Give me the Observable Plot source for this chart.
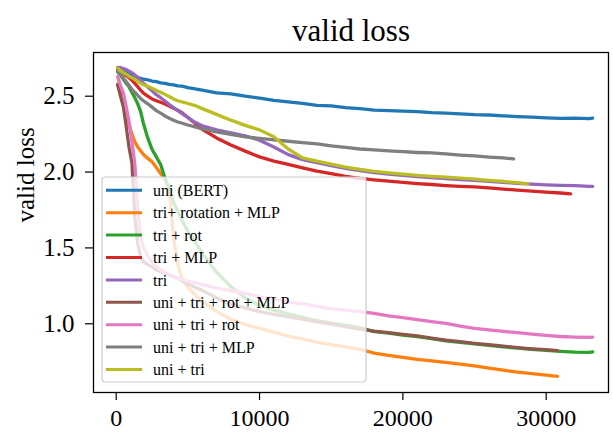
<!DOCTYPE html>
<html>
<head>
<meta charset="utf-8">
<script src="https://cdn.jsdelivr.net/npm/d3@7"></script>
<script src="https://cdn.jsdelivr.net/npm/@observablehq/plot@0.6"></script>
<style>
  html, body { margin: 0; padding: 0; background: white; }
  #chart { width: 613px; height: 432px; }
</style>
</head>
<body>
<div id="chart"></div>
<script>
const steps = [100, 300, 500, 700, 900, 1100, 1300, 1500, 1700, 1900, 2200, 2500, 2800, 3100, 3400, 3700, 4000, 4300, 4600, 5000, 5500, 6000,
  7000, 8000, 9000, 10000, 11000, 12000, 13000, 14000, 15000, 16000, 17000, 18000, 19000, 20000, 21000, 22000, 23000, 24000, 25000,
  26000, 27000, 28000, 29000, 30000, 31000, 32000, 33000];

const labels = ["uni (BERT)", "tri+ rotation + MLP", "tri + rot", "tri + MLP", "tri",
  "uni + tri + rot + MLP", "uni + tri + rot", "uni + tri + MLP", "uni + tri"];
const colors = ["#1f77b4", "#ff7f0e", "#2ca02c", "#d62728", "#9467bd", "#8c564b", "#e377c2", "#7f7f7f", "#bcbd22"];
const lastSteps = [33240, 30790, 33240, 31700, 33240, 30790, 33240, 27730, 28710];

const uniBert = [2.675, 2.668, 2.660, 2.652, 2.645, 2.636, 2.630, 2.622, 2.618, 2.612,
  2.607, 2.600, 2.596, 2.588, 2.585, 2.578, 2.575, 2.568, 2.566, 2.556, 2.548, 2.540,
  2.522, 2.515, 2.500, 2.488, 2.472, 2.462, 2.452, 2.440, 2.436, 2.424,
  2.418, 2.408, 2.405, 2.402, 2.398, 2.392, 2.389, 2.384, 2.378, 2.376,
  2.370, 2.366, 2.362, 2.357, 2.354, 2.356, 2.352, 2.355];
const triRotMlp = [2.58, 2.52, 2.45, 2.38, 2.31, 2.25, 2.20, 2.165, 2.14, 2.115,
  2.09, 2.068, 2.03, 1.99, 1.95, 1.88, 1.57, 1.39, 1.30, 1.24, 1.19, 1.15,
  1.08, 1.03, 0.995, 0.97, 0.945, 0.918, 0.90, 0.878, 0.862, 0.848,
  0.832, 0.806, 0.792, 0.778, 0.766, 0.756, 0.746, 0.734, 0.722, 0.708,
  0.694, 0.682, 0.672, 0.662, 0.653];
const triRot = [2.66, 2.64, 2.61, 2.585, 2.56, 2.525, 2.49, 2.45, 2.40, 2.32,
  2.225, 2.15, 2.10, 2.05, 1.96, 1.89, 1.80, 1.74, 1.68, 1.61, 1.54, 1.465,
  1.34, 1.245, 1.17, 1.12, 1.09, 1.065, 1.042, 1.02, 1.005, 0.99,
  0.975, 0.948, 0.938, 0.926, 0.916, 0.902, 0.888, 0.878, 0.867, 0.858,
  0.848, 0.840, 0.832, 0.825, 0.818, 0.813, 0.812, 0.815];
const triMlp = [2.67, 2.66, 2.648, 2.635, 2.622, 2.605, 2.585, 2.562, 2.54, 2.52,
  2.50, 2.482, 2.47, 2.46, 2.448, 2.435, 2.42, 2.408, 2.39, 2.36, 2.322, 2.282,
  2.225, 2.178, 2.138, 2.10, 2.072, 2.05, 2.028, 2.006, 1.99, 1.972,
  1.958, 1.948, 1.94, 1.932, 1.924, 1.918, 1.911, 1.906, 1.902, 1.896,
  1.888, 1.881, 1.874, 1.868, 1.862, 1.856];
const tri = [2.69, 2.688, 2.682, 2.675, 2.665, 2.655, 2.64, 2.625, 2.605, 2.585,
  2.56, 2.535, 2.51, 2.49, 2.468, 2.445, 2.425, 2.405, 2.385, 2.36, 2.328, 2.305,
  2.278, 2.258, 2.238, 2.21, 2.165, 2.115, 2.082, 2.062, 2.042, 2.025,
  2.01, 1.997, 1.987, 1.978, 1.97, 1.963, 1.957, 1.951, 1.945, 1.938,
  1.932, 1.926, 1.92, 1.916, 1.912, 1.91, 1.905, 1.906];
const uniTriRotMlp = [2.575, 2.50, 2.43, 2.30, 2.16, 2.06, 1.70, 1.53, 1.44, 1.41,
  1.39, 1.375, 1.355, 1.345, 1.335, 1.322, 1.31, 1.30, 1.285, 1.262, 1.24, 1.22,
  1.17, 1.13, 1.105, 1.08, 1.062, 1.045, 1.03, 1.012, 0.998, 0.982,
  0.965, 0.952, 0.942, 0.93, 0.92, 0.905, 0.892, 0.882, 0.871, 0.862,
  0.852, 0.843, 0.835, 0.829, 0.823];
const uniTriRot = [2.63, 2.57, 2.52, 2.43, 2.33, 2.20, 2.05, 1.75, 1.58, 1.50,
  1.45, 1.405, 1.375, 1.355, 1.34, 1.325, 1.312, 1.302, 1.292, 1.282, 1.27, 1.258,
  1.235, 1.218, 1.20, 1.178, 1.162, 1.142, 1.132, 1.115, 1.10, 1.09,
  1.08, 1.068, 1.052, 1.04, 1.028, 1.014, 1.002, 0.985, 0.97, 0.96,
  0.95, 0.941, 0.932, 0.923, 0.916, 0.912, 0.91, 0.912];
const uniTriMlp = [2.665, 2.645, 2.62, 2.595, 2.57, 2.545, 2.525, 2.505, 2.485, 2.47,
  2.45, 2.428, 2.405, 2.388, 2.37, 2.355, 2.342, 2.33, 2.322, 2.31, 2.298, 2.285,
  2.265, 2.248, 2.232, 2.222, 2.212, 2.203, 2.194, 2.186, 2.172, 2.162,
  2.152, 2.146, 2.14, 2.134, 2.129, 2.126, 2.12, 2.112, 2.106, 2.099, 2.093,
  2.087];
const uniTri = [2.685, 2.668, 2.655, 2.645, 2.632, 2.622, 2.61, 2.598, 2.585, 2.575,
  2.565, 2.552, 2.538, 2.526, 2.512, 2.498, 2.482, 2.47, 2.462, 2.452, 2.438, 2.418,
  2.38, 2.342, 2.308, 2.278, 2.232, 2.152, 2.094, 2.072, 2.052, 2.033,
  2.018, 2.005, 1.995, 1.986, 1.978, 1.972, 1.966, 1.96, 1.953, 1.945, 1.938, 1.93,
  1.922];

const xTicks = [0, 10000, 20000, 30000];
const yTicks = [1.0, 1.5, 2.0, 2.5];

const seriesValues = [uniBert, triRotMlp, triRot, triMlp, tri, uniTriRotMlp, uniTriRot, uniTriMlp, uniTri];

const series = seriesValues.map((vals, i) => {
  const s = steps.filter(t => t < lastSteps[i]).concat(lastSteps[i]);
  if (s.length !== vals.length) console.error("length mismatch", labels[i], s.length, vals.length);
  return vals.map((v, j) => ({step: s[j], loss: v, series: labels[i]}));
});

const W = 613, H = 432;
const mL = 93, mR = 5, mT = 52, mB = 40;
const font = "Liberation Serif, Times New Roman, serif";

const chart = Plot.plot({
  width: W, height: H,
  marginLeft: mL, marginRight: mR, marginTop: mT, marginBottom: mB,
  style: {fontFamily: font, color: "black", background: "white", overflow: "visible"},
  x: {domain: [-1584, 34347], label: null},
  y: {domain: [0.547, 2.788], label: null},
  color: {domain: labels, range: colors},
  marks: [
    ...series.map((d, i) => Plot.line(d, {x: "step", y: "loss", stroke: colors[i], strokeWidth: 3.3, strokeLinejoin: "round"})),
    Plot.frame({stroke: "black", strokeWidth: 1.3}),
    Plot.axisX({ticks: xTicks, tickSize: 8, tickPadding: 8, fontSize: 24, tickFormat: d3.format("d"), strokeWidth: 1.2, label: null}),
    Plot.axisY({ticks: yTicks, tickSize: 8, tickPadding: 11, fontSize: 25, tickFormat: d3.format(".1f"), strokeWidth: 1.2, label: null}),
    Plot.text(["valid loss"], {frameAnchor: "top", lineAnchor: "middle", dy: -21, fontSize: 31, fill: "black"}),
    Plot.text(["valid loss"], {frameAnchor: "left", lineAnchor: "middle", dx: -68, rotate: -90, fontSize: 25, fill: "black"})
  ]
});

document.getElementById("chart").appendChild(chart);

// Legend (matplotlib style, semi-transparent box)
const svg = d3.select(chart);
const lx = mL + 9, ly = mT + 125, lw = 264, lh = 205;
const rowH = 22.4, firstRow = ly + 13.3;
const g = svg.append("g").attr("font-family", font).attr("font-size", 16).attr("text-anchor", "start");
g.append("rect")
  .attr("x", lx).attr("y", ly).attr("width", lw).attr("height", lh)
  .attr("rx", 3.5)
  .attr("fill", "white").attr("fill-opacity", 0.8)
  .attr("stroke", "#cccccc").attr("stroke-width", 1.2);
labels.forEach((lab, i) => {
  const y = firstRow + i * rowH;
  g.append("line")
    .attr("x1", lx + 4).attr("x2", lx + 40).attr("y1", y).attr("y2", y)
    .attr("stroke", colors[i]).attr("stroke-width", 3);
  g.append("text")
    .attr("x", lx + 51).attr("y", y).attr("dy", "0.35em")
    .attr("text-anchor", "start")
    .attr("fill", "black").text(lab);
});
</script>
</body>
</html>
